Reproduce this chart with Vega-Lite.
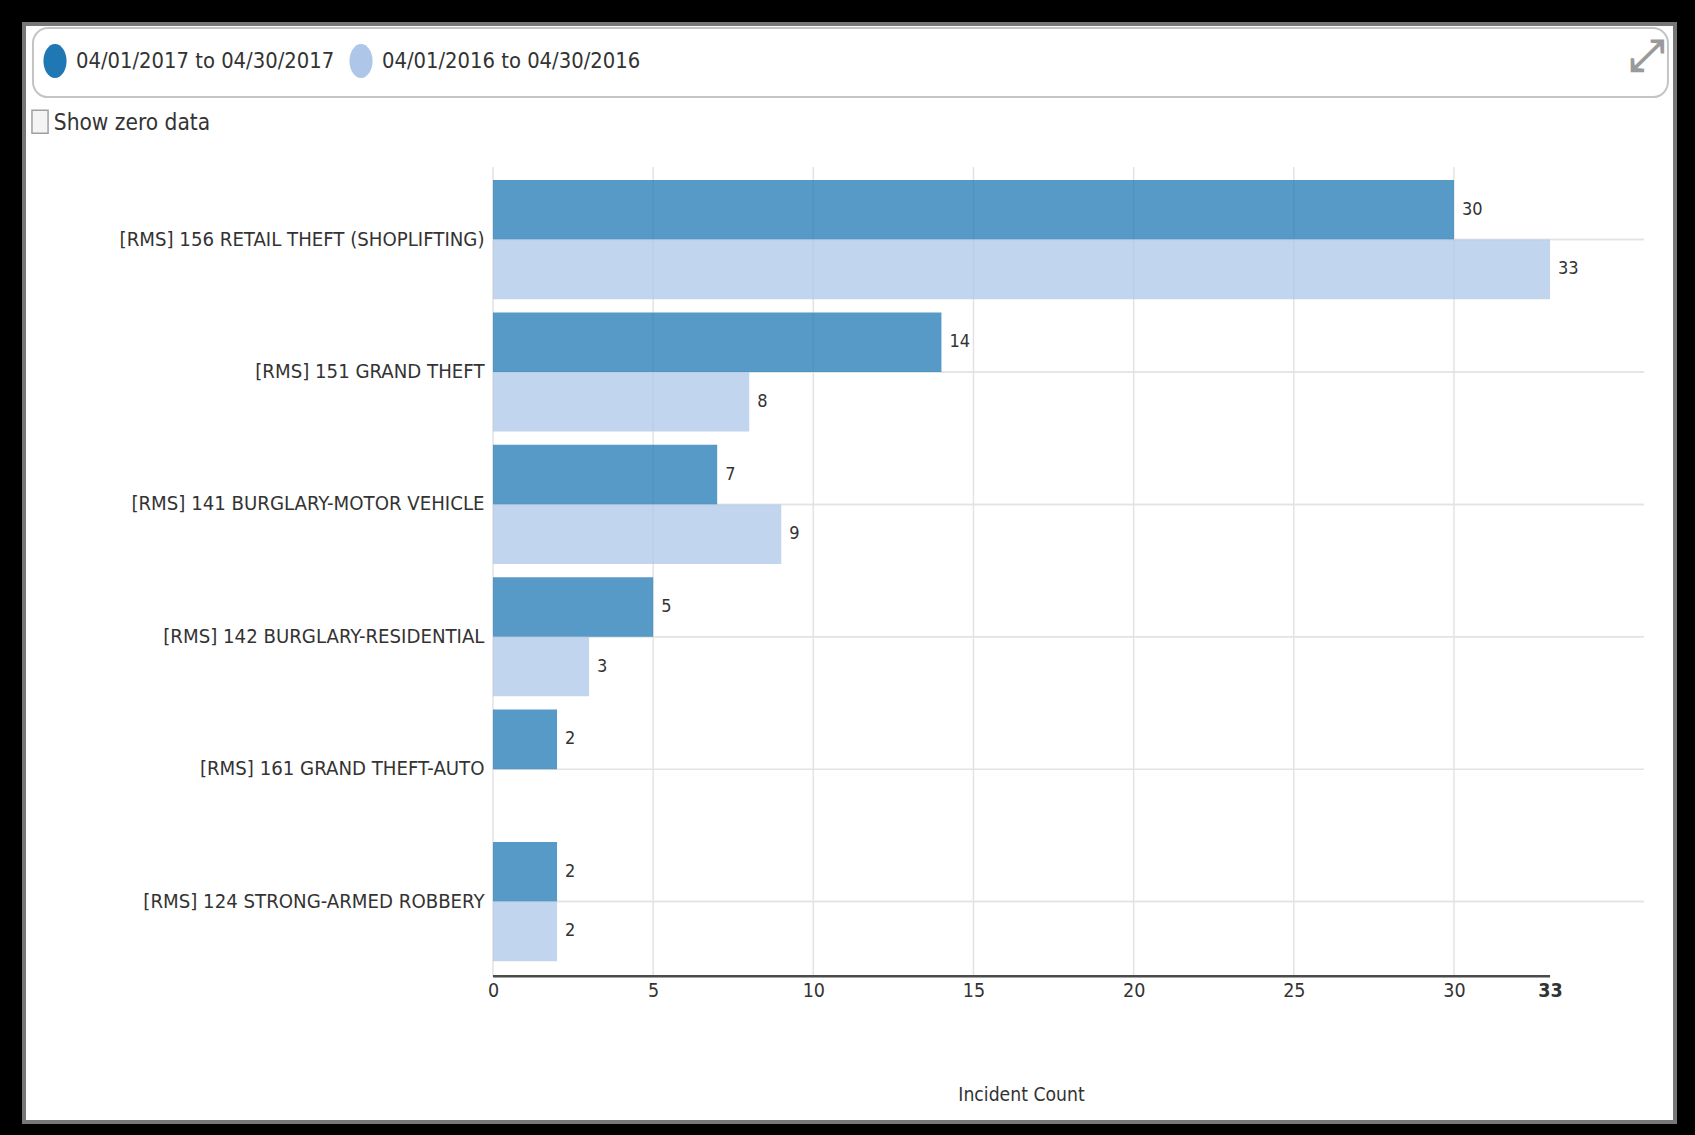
{
  "$schema": "https://vega.github.io/schema/vega-lite/v6.json",
  "width": 1651,
  "height": 1098,
  "autosize": {"type": "none"},
  "padding": {"left": 24, "top": 24, "right": 20, "bottom": 13},
  "background": "#000000",
  "config": {
    "font": "DejaVu Sans Condensed, Liberation Sans",
    "view": {"fill": "#ffffff", "stroke": "#777777", "strokeWidth": 4}
  },
  "datasets": {
    "crimes": [
      {"category": "[RMS] 156 RETAIL THEFT (SHOPLIFTING)", "period": "04/01/2017 to 04/30/2017", "count": 30},
      {"category": "[RMS] 156 RETAIL THEFT (SHOPLIFTING)", "period": "04/01/2016 to 04/30/2016", "count": 33},
      {"category": "[RMS] 151 GRAND THEFT", "period": "04/01/2017 to 04/30/2017", "count": 14},
      {"category": "[RMS] 151 GRAND THEFT", "period": "04/01/2016 to 04/30/2016", "count": 8},
      {"category": "[RMS] 141 BURGLARY-MOTOR VEHICLE", "period": "04/01/2017 to 04/30/2017", "count": 7},
      {"category": "[RMS] 141 BURGLARY-MOTOR VEHICLE", "period": "04/01/2016 to 04/30/2016", "count": 9},
      {"category": "[RMS] 142 BURGLARY-RESIDENTIAL", "period": "04/01/2017 to 04/30/2017", "count": 5},
      {"category": "[RMS] 142 BURGLARY-RESIDENTIAL", "period": "04/01/2016 to 04/30/2016", "count": 3},
      {"category": "[RMS] 161 GRAND THEFT-AUTO", "period": "04/01/2017 to 04/30/2017", "count": 2},
      {"category": "[RMS] 124 STRONG-ARMED ROBBERY", "period": "04/01/2017 to 04/30/2017", "count": 2},
      {"category": "[RMS] 124 STRONG-ARMED ROBBERY", "period": "04/01/2016 to 04/30/2016", "count": 2}
    ]
  },
  "layer": [
    {
      "data": {"name": "crimes"},
      "mark": {"type": "rule", "color": "#e3e3e3", "strokeWidth": 1.5},
      "encoding": {
        "x": {"datum": 0, "type": "quantitative"},
        "x2": {"datum": 35.93},
        "y": {"field": "category", "type": "nominal", "sort": null, "bandPosition": 0.5}
      }
    },
    {
      "data": {"values": [{}]},
      "layer": [
        {"mark": {"type": "rule", "color": "#e3e3e3", "strokeWidth": 1.5}, "encoding": {"x": {"datum": 0, "type": "quantitative"}, "y": {"datum": "[RMS] 156 RETAIL THEFT (SHOPLIFTING)", "type": "nominal", "bandPosition": -0.109}, "y2": {"datum": "[RMS] 124 STRONG-ARMED ROBBERY", "bandPosition": 1.126}}},
        {"mark": {"type": "rule", "color": "#e3e3e3", "strokeWidth": 1.5}, "encoding": {"x": {"datum": 5, "type": "quantitative"}, "y": {"datum": "[RMS] 156 RETAIL THEFT (SHOPLIFTING)", "type": "nominal", "bandPosition": -0.109}, "y2": {"datum": "[RMS] 124 STRONG-ARMED ROBBERY", "bandPosition": 1.126}}},
        {"mark": {"type": "rule", "color": "#e3e3e3", "strokeWidth": 1.5}, "encoding": {"x": {"datum": 10, "type": "quantitative"}, "y": {"datum": "[RMS] 156 RETAIL THEFT (SHOPLIFTING)", "type": "nominal", "bandPosition": -0.109}, "y2": {"datum": "[RMS] 124 STRONG-ARMED ROBBERY", "bandPosition": 1.126}}},
        {"mark": {"type": "rule", "color": "#e3e3e3", "strokeWidth": 1.5}, "encoding": {"x": {"datum": 15, "type": "quantitative"}, "y": {"datum": "[RMS] 156 RETAIL THEFT (SHOPLIFTING)", "type": "nominal", "bandPosition": -0.109}, "y2": {"datum": "[RMS] 124 STRONG-ARMED ROBBERY", "bandPosition": 1.126}}},
        {"mark": {"type": "rule", "color": "#e3e3e3", "strokeWidth": 1.5}, "encoding": {"x": {"datum": 20, "type": "quantitative"}, "y": {"datum": "[RMS] 156 RETAIL THEFT (SHOPLIFTING)", "type": "nominal", "bandPosition": -0.109}, "y2": {"datum": "[RMS] 124 STRONG-ARMED ROBBERY", "bandPosition": 1.126}}},
        {"mark": {"type": "rule", "color": "#e3e3e3", "strokeWidth": 1.5}, "encoding": {"x": {"datum": 25, "type": "quantitative"}, "y": {"datum": "[RMS] 156 RETAIL THEFT (SHOPLIFTING)", "type": "nominal", "bandPosition": -0.109}, "y2": {"datum": "[RMS] 124 STRONG-ARMED ROBBERY", "bandPosition": 1.126}}},
        {"mark": {"type": "rule", "color": "#e3e3e3", "strokeWidth": 1.5}, "encoding": {"x": {"datum": 30, "type": "quantitative"}, "y": {"datum": "[RMS] 156 RETAIL THEFT (SHOPLIFTING)", "type": "nominal", "bandPosition": -0.109}, "y2": {"datum": "[RMS] 124 STRONG-ARMED ROBBERY", "bandPosition": 1.126}}},
        {"mark": {"type": "rule", "color": "#4a4a4a", "strokeWidth": 2.5}, "encoding": {"x": {"datum": 0, "type": "quantitative"}, "x2": {"datum": 33}, "y": {"datum": "[RMS] 124 STRONG-ARMED ROBBERY", "type": "nominal", "bandPosition": 1.126}}}
      ]
    },
    {
      "data": {"name": "crimes"},
      "mark": {"type": "bar", "opacity": 0.75},
      "encoding": {
        "x": {
          "field": "count",
          "type": "quantitative",
          "scale": {"domain": [-14.64, 36.9], "nice": false, "zero": false},
          "axis": {
            "orient": "bottom",
            "offset": -146,
            "zindex": 1,
            "domain": false,
            "ticks": false,
            "grid": false,
            "values": [0, 5, 10, 15, 20, 25, 30, 33],
            "labelFontSize": 19.5,
            "labelColor": "#333333",
            "labelFontWeight": {"condition": {"test": "datum.value == 33", "value": "bold"}, "value": "normal"},
            "labelPadding": 5,
            "labelFlush": false,
            "title": "Incident Count",
            "titleFontSize": 19.2,
            "titleFontWeight": "normal",
            "titleColor": "#333333",
            "titlePadding": 86,
            "titleX": 997
          }
        },
        "y": {
          "field": "category",
          "type": "nominal",
          "sort": null,
          "scale": {
            "type": "band",
            "domain": ["[RMS] 156 RETAIL THEFT (SHOPLIFTING)", "[RMS] 151 GRAND THEFT", "[RMS] 141 BURGLARY-MOTOR VEHICLE", "[RMS] 142 BURGLARY-RESIDENTIAL", "[RMS] 161 GRAND THEFT-AUTO", "[RMS] 124 STRONG-ARMED ROBBERY"],
            "paddingInner": 0.1,
            "paddingOuter": 0.1,
            "rangeMin": 142.8,
            "rangeMax": 950.4
          },
          "axis": {
            "orient": "left",
            "offset": -469,
            "zindex": 1,
            "domain": false,
            "ticks": false,
            "grid": false,
            "labelFontSize": 20.2,
            "labelColor": "#333333",
            "labelPadding": 9,
            "labelLimit": 0,
            "title": null
          }
        },
        "yOffset": {
          "field": "period",
          "type": "nominal",
          "scale": {"domain": ["04/01/2017 to 04/30/2017", "04/01/2016 to 04/30/2016"], "paddingInner": 0, "paddingOuter": 0}
        },
        "color": {
          "field": "period",
          "type": "nominal",
          "scale": {"domain": ["04/01/2017 to 04/30/2017", "04/01/2016 to 04/30/2016"], "range": ["#1f77b4", "#aec7e8"]},
          "legend": {
            "orient": "none",
            "legendX": 14,
            "legendY": 20,
            "direction": "horizontal",
            "title": null,
            "symbolType": "M-0.68,0A0.68,1 0 1,0 0.68,0A0.68,1 0 1,0 -0.68,0Z",
            "symbolSize": 1156,
            "symbolOpacity": 1,
            "symbolStrokeWidth": 0,
            "labelFontSize": 21.8,
            "labelColor": "#333333",
            "labelOffset": 4,
            "labelLimit": 0,
            "columnPadding": 9,
            "padding": 0,
            "zindex": 2
          }
        }
      }
    },
    {
      "data": {"name": "crimes"},
      "mark": {"type": "text", "align": "left", "baseline": "middle", "dx": 8, "fontSize": 18, "color": "#333333"},
      "encoding": {
        "x": {"field": "count", "type": "quantitative"},
        "y": {"field": "category", "type": "nominal", "sort": null},
        "yOffset": {"field": "period", "type": "nominal"},
        "text": {"field": "count", "type": "quantitative"}
      }
    },
    {
      "data": {"values": [{}]},
      "mark": {"type": "rect", "fill": "#ffffff", "stroke": "#c4c4c4", "strokeWidth": 2, "cornerRadius": 15},
      "encoding": {
        "x": {"datum": -14.36, "type": "quantitative"},
        "x2": {"datum": 36.68},
        "y": {"datum": "[RMS] 156 RETAIL THEFT (SHOPLIFTING)", "type": "nominal", "bandPosition": -1.275},
        "y2": {"datum": "[RMS] 156 RETAIL THEFT (SHOPLIFTING)", "bandPosition": -0.696}
      }
    },
    {
      "data": {"values": [{}]},
      "mark": {"type": "text", "text": "⤢", "font": "DejaVu Sans", "fontSize": 44, "fontWeight": "bold", "color": "#9a9a9a", "align": "center", "baseline": "middle"},
      "encoding": {
        "x": {"datum": 36.0, "type": "quantitative"},
        "y": {"datum": "[RMS] 156 RETAIL THEFT (SHOPLIFTING)", "type": "nominal", "bandPosition": -1.03}
      }
    },
    {
      "data": {"values": [{}]},
      "mark": {"type": "point", "shape": "M-0.7,-1H0.7V1H-0.7Z", "size": 529, "filled": true, "fill": "#f4f4f4", "stroke": "#a0a0a0", "strokeWidth": 1.5, "opacity": 1},
      "encoding": {
        "x": {"datum": -14.14, "type": "quantitative"},
        "y": {"datum": "[RMS] 156 RETAIL THEFT (SHOPLIFTING)", "type": "nominal", "bandPosition": -0.49}
      }
    },
    {
      "data": {"values": [{}]},
      "mark": {"type": "text", "text": "Show zero data", "fontSize": 22.5, "color": "#333333", "align": "left", "baseline": "middle"},
      "encoding": {
        "x": {"datum": -13.71, "type": "quantitative"},
        "y": {"datum": "[RMS] 156 RETAIL THEFT (SHOPLIFTING)", "type": "nominal", "bandPosition": -0.478}
      }
    }
  ]
}
